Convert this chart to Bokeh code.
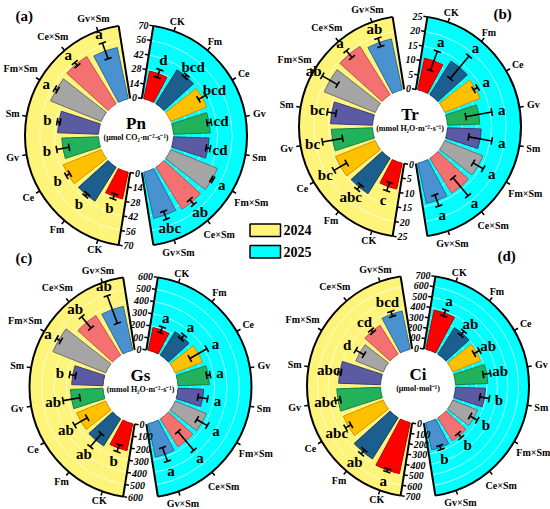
import numpy as np
from bokeh.plotting import figure
from bokeh.models import Range1d
from bokeh.embed import file_html
from bokeh.resources import INLINE
from bokeh.core.properties import value

# ---------------- data ----------------
categories = ["CK", "Fm", "Ce", "Gv", "Sm", "Fm×Sm", "Ce×Sm", "Gv×Sm"]
years = ["2024", "2025"]

pn_ticks = [0, 14, 28, 42, 56, 70]
pn_2024 = [26, 38, 39, 35, 39, 52, 53, 50]
pn_2024_err = [2.5, 1.5, 2, 6, 1.5, 1.5, 2, 8]
pn_2024_sig = ["b", "b", "b", "b", "b", "a", "a", "a"]
pn_2025 = [27, 38, 37, 35, 34, 48, 47, 45]
pn_2025_err = [4, 1.5, 4, 2, 2, 1, 3, 4]
pn_2025_sig = ["d", "bcd", "bcd", "cd", "cd", "a", "ab", "abc"]

tr_ticks = [0, 5, 10, 15, 20, 25]
tr_2024 = [9, 14.2, 14.6, 14, 14.3, 18.7, 19.4, 17.7]
tr_2024_err = [1.5, 1, 2.5, 3.5, 1.5, 3, 1.5, 1.5]
tr_2024_sig = ["c", "abc", "bc", "bc", "bc", "ab", "a", "ab"]
tr_2025 = [11, 13.5, 13, 11, 11.5, 14, 14, 14]
tr_2025_err = [3.5, 5, 0.8, 4.5, 4, 2, 4, 2]
tr_2025_sig = ["a", "a", "a", "a", "a", "a", "a", "a"]

gs_ticks = [0, 100, 200, 300, 400, 500, 600]
gs_2024 = [225, 261, 256, 266, 256, 465, 382, 367]
gs_2024_err = [30, 70, 60, 70, 25, 20, 60, 120]
gs_2024_sig = ["b", "ab", "ab", "ab", "b", "a", "ab", "ab"]
gs_2025 = [190, 227, 239, 256, 210, 274, 269, 279]
gs_2025_err = [25, 20, 80, 15, 40, 50, 100, 60]
gs_2025_sig = ["a", "a", "a", "a", "a", "a", "a", "a"]

ci_ticks = [0, 100, 200, 300, 400, 500, 600, 700]
ci_2024 = [497, 462, 410, 417, 400, 282, 324, 373]
ci_2024_err = [15, 25, 30, 25, 15, 45, 15, 25]
ci_2024_sig = ["a", "ab", "abc", "abc", "abc", "d", "cd", "bcd"]
ci_2025 = [383, 299, 288, 308, 286, 255, 259, 266]
ci_2025_err = [30, 25, 30, 35, 45, 40, 25, 20]
ci_2025_sig = ["a", "ab", "ab", "ab", "b", "b", "b", "b"]

# ---------------- style ----------------
BAR_FILL = ["#FF0000", "#1C5E8E", "#FFC000", "#22B25C", "#5B5BA3", "#A5A5A5", "#F47171", "#4A92CF"]
BAR_LINE = ["#C00000", "#123F60", "#D09000", "#178040", "#3B3B7A", "#6E6E6E", "#C84E4E", "#2E6A9E"]
YELLOW = "#FFF47A"
CYAN = "#00FFFF"
SERIF = value("Liberation Serif")

W, H = 550, 509
R_IN, R_OUT = 37.5, 111.0
GAP = 9.0       # degrees between vertical and sector edge
SLOT = 20.0     # degrees per category
HALF_BAR = 8.0  # half bar width in degrees

p = figure(width=W, height=H, x_range=Range1d(0, W), y_range=Range1d(0, H),
           output_backend="svg", toolbar_location=None, min_border=0,
           x_axis_location=None, y_axis_location=None)
p.grid.visible = False
p.outline_line_color = None
p.background_fill_color = "white"


def phi(th):
    """clockwise-from-top degrees -> bokeh radians"""
    return np.radians(90.0 - np.asarray(th, dtype=float))


def draw_panel(cx, cy_s, ticks, v24, e24, s24, v25, e25, s25, title, unit, tag, tag_xy):
    cy = H - cy_s
    vmax = float(ticks[-1])

    def rad(v):
        return R_IN + np.asarray(v, dtype=float) / vmax * (R_OUT - R_IN)

    def pt(r, th):
        t = np.radians(np.asarray(th, dtype=float))
        return cx + np.asarray(r) * np.sin(t), cy + np.asarray(r) * np.cos(t)

    n = len(categories)
    halves = [
        (GAP, 180 - GAP, CYAN, [SLOT * (k + 1) for k in range(n)], v25, e25, s25, GAP, 180 - GAP),
        (180 + GAP, 360 - GAP, YELLOW, [180 + SLOT * (k + 1) for k in range(n)], v24, e24, s24, 180 + GAP, 360 - GAP),
    ]
    for (ts, te, col, ths, vals, errs, sigs, ax_th, other_th) in halves:
        p.annular_wedge(x=[cx], y=[cy], inner_radius=R_IN, outer_radius=R_OUT,
                        start_angle=float(phi(te)), end_angle=float(phi(ts)),
                        fill_color=col, line_color=None)
        gt = ticks[1:-1]
        p.arc(x=[cx] * len(gt), y=[cy] * len(gt), radius=list(rad(gt)),
              start_angle=float(phi(te)), end_angle=float(phi(ts)),
              line_color="white", line_alpha=0.65, line_width=1)
        ths = np.array(ths)
        p.annular_wedge(x=[cx] * n, y=[cy] * n, inner_radius=R_IN, outer_radius=list(rad(vals)),
                        start_angle=list(phi(ths + HALF_BAR)), end_angle=list(phi(ths - HALF_BAR)),
                        fill_color=BAR_FILL, line_color=BAR_LINE, line_width=1)
        vals_a = np.array(vals, dtype=float)
        errs_a = np.array(errs, dtype=float)
        r_lo, r_hi = rad(vals_a - errs_a), rad(vals_a + errs_a)
        x0, y0 = pt(r_lo, ths)
        x1, y1 = pt(r_hi, ths)
        p.segment(x0=list(x0), y0=list(y0), x1=list(x1), y1=list(y1), line_color="black", line_width=1.6)
        t = np.radians(ths)
        ux, uy = np.cos(t), -np.sin(t)
        cap = 3.8
        for (xa, ya) in ((x0, y0), (x1, y1)):
            p.segment(x0=list(xa - cap * ux), y0=list(ya - cap * uy),
                      x1=list(xa + cap * ux), y1=list(ya + cap * uy),
                      line_color="black", line_width=1.6)
        lx, ly = pt(r_hi + 10, ths)
        p.text(x=list(lx), y=list(ly), text=sigs, text_font=SERIF, text_font_style="bold",
               text_font_size="15px", text_align="center", text_baseline="middle", text_color="black")
        p.arc(x=[cx], y=[cy], radius=R_OUT, start_angle=float(phi(te)), end_angle=float(phi(ts)),
              line_color="black", line_width=2)
        for eth in (ax_th, other_th):
            ex0, ey0 = pt(R_IN, eth)
            ex1, ey1 = pt(R_OUT, eth)
            p.segment(x0=[float(ex0)], y0=[float(ey0)], x1=[float(ex1)], y1=[float(ey1)],
                      line_color="black", line_width=2)
        ox0, oy0 = pt(R_OUT, ths)
        ox1, oy1 = pt(R_OUT + 4.5, ths)
        p.segment(x0=list(ox0), y0=list(oy0), x1=list(ox1), y1=list(oy1), line_color="black", line_width=1.5)
        fs = 10.0
        widths = np.array([0.68 * fs * len(c) for c in categories])
        roff = 118.5 + np.abs(np.sin(t)) * widths / 2
        cx_l, cy_l = pt(roff, ths)
        p.text(x=list(cx_l), y=list(cy_l), text=categories, text_font=SERIF, text_font_style="bold",
               text_font_size="10px", text_align="center", text_baseline="middle", text_color="black")
        ta = np.radians(ax_th)
        dx, dy = -np.cos(ta), np.sin(ta)
        rt = rad(ticks)
        tx0, ty0 = pt(rt, [ax_th] * len(ticks))
        p.segment(x0=list(tx0), y0=list(ty0), x1=list(tx0 + 4 * dx), y1=list(ty0 + 4 * dy),
                  line_color="black", line_width=1.5)
        align = "right" if dx < 0 else "left"
        p.text(x=list(tx0 + 5 * dx), y=list(ty0 + 5 * dy), text=[str(tk) for tk in ticks],
               text_font=SERIF, text_font_style="bold italic", text_font_size="10px",
               text_align=align, text_baseline="middle", text_color="black")

    p.text(x=[cx], y=[cy + 12], text=[title], text_font=SERIF, text_font_style="bold",
           text_font_size="17px", text_align="center", text_baseline="middle", text_color="black")
    p.text(x=[cx], y=[cy - 2], text=[unit], text_font=SERIF, text_font_style="bold",
           text_font_size="8px", text_align="center", text_baseline="middle", text_color="black")
    p.text(x=[tag_xy[0]], y=[H - tag_xy[1]], text=[tag], text_font=SERIF, text_font_style="bold",
           text_font_size="15px", text_align="left", text_baseline="middle", text_color="black")


draw_panel(135.5, 135.0, pn_ticks, pn_2024, pn_2024_err, pn_2024_sig, pn_2025, pn_2025_err, pn_2025_sig,
           "Pn", "(μmol CO₂·m⁻²·s⁻¹)", "(a)", (15, 15))
draw_panel(409.5, 126.0, tr_ticks, tr_2024, tr_2024_err, tr_2024_sig, tr_2025, tr_2025_err, tr_2025_sig,
           "Tr", "(mmol H₂O·m⁻²·s⁻¹)", "(b)", (493, 13))
draw_panel(140.0, 386.5, gs_ticks, gs_2024, gs_2024_err, gs_2024_sig, gs_2025, gs_2025_err, gs_2025_sig,
           "Gs", "(mmol H₂O·m⁻²·s⁻¹)", "(c)", (15, 257))
draw_panel(417.5, 385.5, ci_ticks, ci_2024, ci_2024_err, ci_2024_sig, ci_2025, ci_2025_err, ci_2025_sig,
           "Ci", "(μmol·mol⁻¹)", "(d)", (497, 255))

leg_cols = [YELLOW, CYAN]
leg_top = [223.5, 245.0]
p.quad(left=[249.5, 249.5], right=[280, 280], top=[H - t for t in leg_top],
       bottom=[H - t - 12.5 for t in leg_top], fill_color=leg_cols, line_color="black", line_width=1.5)
p.text(x=[283, 283], y=[H - t - 6.2 for t in leg_top], text=years, text_font=SERIF,
       text_font_style="bold", text_font_size="14px", text_align="left", text_baseline="middle",
       text_color="black")

open("out.html", "w").write(file_html(p, INLINE))
